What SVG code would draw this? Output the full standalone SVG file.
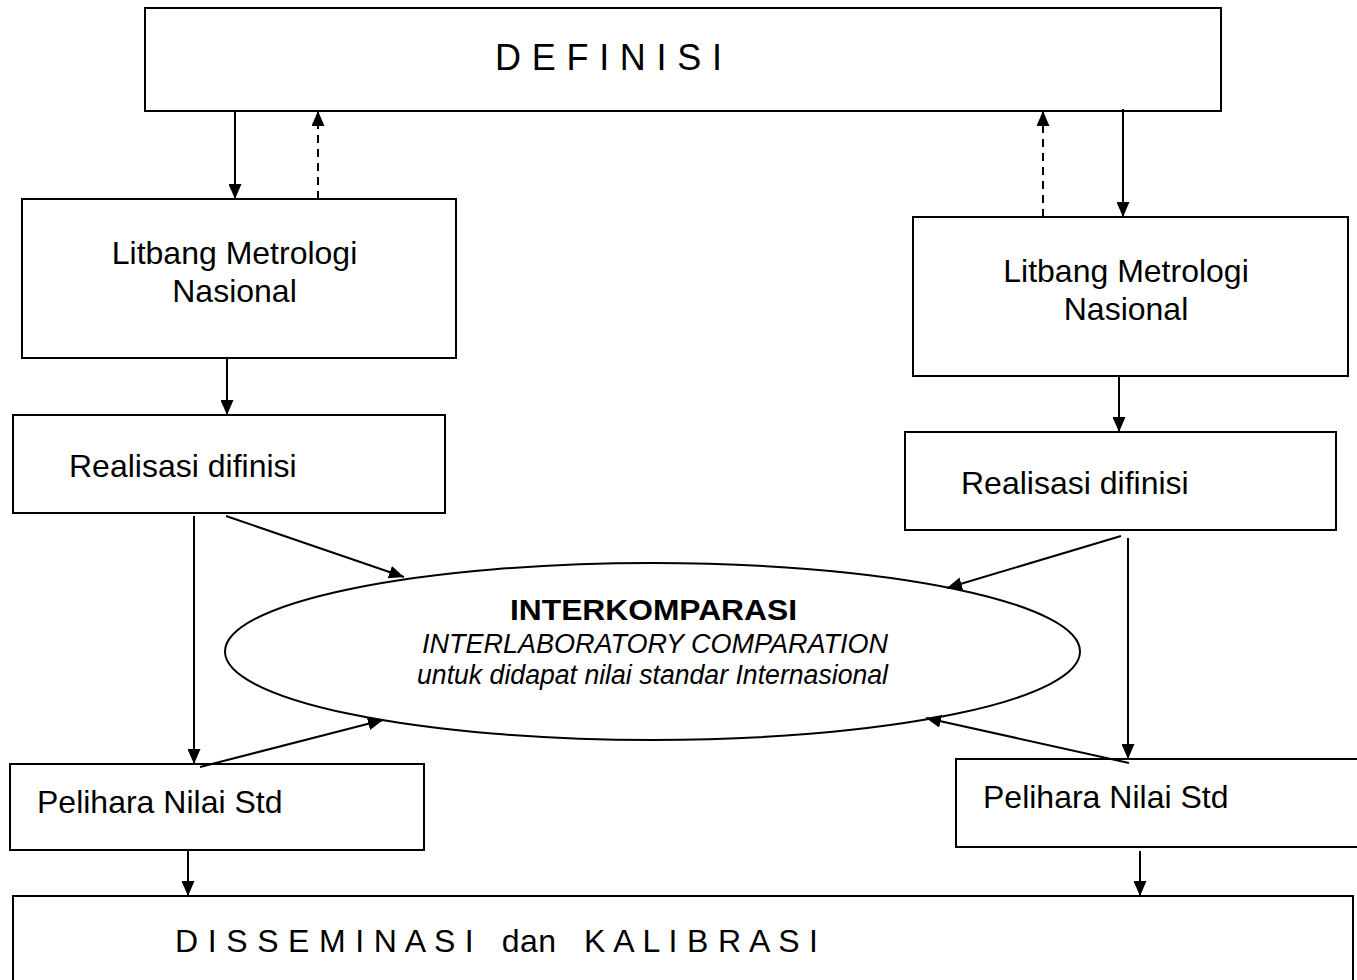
<svg xmlns="http://www.w3.org/2000/svg" width="1357" height="980" viewBox="0 0 1357 980">
<style>
  .box { fill: #fff; stroke: #000; stroke-width: 2; }
  .lbl { font-family: "Liberation Sans", Arial, sans-serif; fill: #000; }
  .t32 { font-size: 32px; }
  .conn { stroke: #000; stroke-width: 2; fill: none; marker-end: url(#arr); }
  .dash { stroke-dasharray: 8 6; }
</style>
<defs>
  <marker id="arr" markerUnits="userSpaceOnUse" markerWidth="15" markerHeight="13" refX="15" refY="6.5" orient="auto">
    <path d="M0,0 L15,6.5 L0,13 z" fill="#000"/>
  </marker>
</defs>
<rect width="1357" height="980" fill="#fff"/>

<g id="definisi">
  <rect class="box" x="145" y="8" width="1076" height="103"/>
  <text class="lbl" x="495" y="70" font-size="36" textLength="227" lengthAdjust="spacing">D E F I N I S I</text>
</g>

<g id="litbang-left">
  <rect class="box" x="22" y="199" width="434" height="159"/>
  <text class="lbl t32" x="234.5" y="264" text-anchor="middle">Litbang Metrologi</text>
  <text class="lbl t32" x="234.5" y="302" text-anchor="middle">Nasional</text>
</g>

<g id="litbang-right">
  <rect class="box" x="913" y="217" width="435" height="159"/>
  <text class="lbl t32" x="1126" y="282" text-anchor="middle">Litbang Metrologi</text>
  <text class="lbl t32" x="1126" y="320" text-anchor="middle">Nasional</text>
</g>

<g id="realisasi-left">
  <rect class="box" x="13" y="415" width="432" height="98"/>
  <text class="lbl t32" x="69" y="477">Realisasi difinisi</text>
</g>

<g id="realisasi-right">
  <rect class="box" x="905" y="432" width="431" height="98"/>
  <text class="lbl t32" x="961" y="494">Realisasi difinisi</text>
</g>

<g id="interkomparasi">
  <ellipse cx="652.5" cy="651.5" rx="427.5" ry="88.5" fill="#fff" stroke="#000" stroke-width="2"/>
  <text class="lbl" x="653.5" y="620" font-size="30" font-weight="bold" text-anchor="middle" textLength="287" lengthAdjust="spacingAndGlyphs">INTERKOMPARASI</text>
  <text class="lbl" x="655" y="653" font-size="27" font-style="italic" text-anchor="middle" textLength="466" lengthAdjust="spacingAndGlyphs">INTERLABORATORY COMPARATION</text>
  <text class="lbl" x="652.5" y="684" font-size="27" font-style="italic" text-anchor="middle" textLength="471" lengthAdjust="spacingAndGlyphs">untuk didapat nilai standar Internasional</text>
</g>

<g id="pelihara-left">
  <rect class="box" x="10" y="764" width="414" height="86"/>
  <text class="lbl t32" x="37" y="813">Pelihara Nilai Std</text>
</g>

<g id="pelihara-right">
  <rect class="box" x="956" y="759" width="420" height="88"/>
  <text class="lbl t32" x="983" y="808">Pelihara Nilai Std</text>
</g>

<g id="disseminasi">
  <rect class="box" x="13" y="896" width="1340" height="110"/>
  <text class="lbl" x="175" y="952" font-size="32" xml:space="preserve" style="white-space:pre" textLength="643" lengthAdjust="spacing">D I S S E M I N A S I   dan   K A L I B R A S I</text>
</g>

<g id="connectors">
  <line class="conn" x1="235" y1="111" x2="235" y2="199"/>
  <line class="conn dash" x1="318" y1="199" x2="318" y2="111"/>
  <line class="conn dash" x1="1043" y1="217" x2="1043" y2="111"/>
  <line class="conn" x1="1123" y1="109" x2="1123" y2="217"/>
  <line class="conn" x1="227" y1="358" x2="227" y2="415"/>
  <line class="conn" x1="1119" y1="376" x2="1119" y2="432"/>
  <line class="conn" x1="226" y1="516" x2="404" y2="577"/>
  <line class="conn" x1="194" y1="516" x2="194" y2="764"/>
  <line class="conn" x1="200" y1="767" x2="383" y2="720"/>
  <line class="conn" x1="1121" y1="536" x2="947" y2="588"/>
  <line class="conn" x1="1128" y1="538" x2="1128" y2="759"/>
  <line class="conn" x1="1129" y1="763" x2="926" y2="718"/>
  <line class="conn" x1="188" y1="850" x2="188" y2="896"/>
  <line class="conn" x1="1140" y1="851" x2="1140" y2="896"/>
</g>
</svg>
